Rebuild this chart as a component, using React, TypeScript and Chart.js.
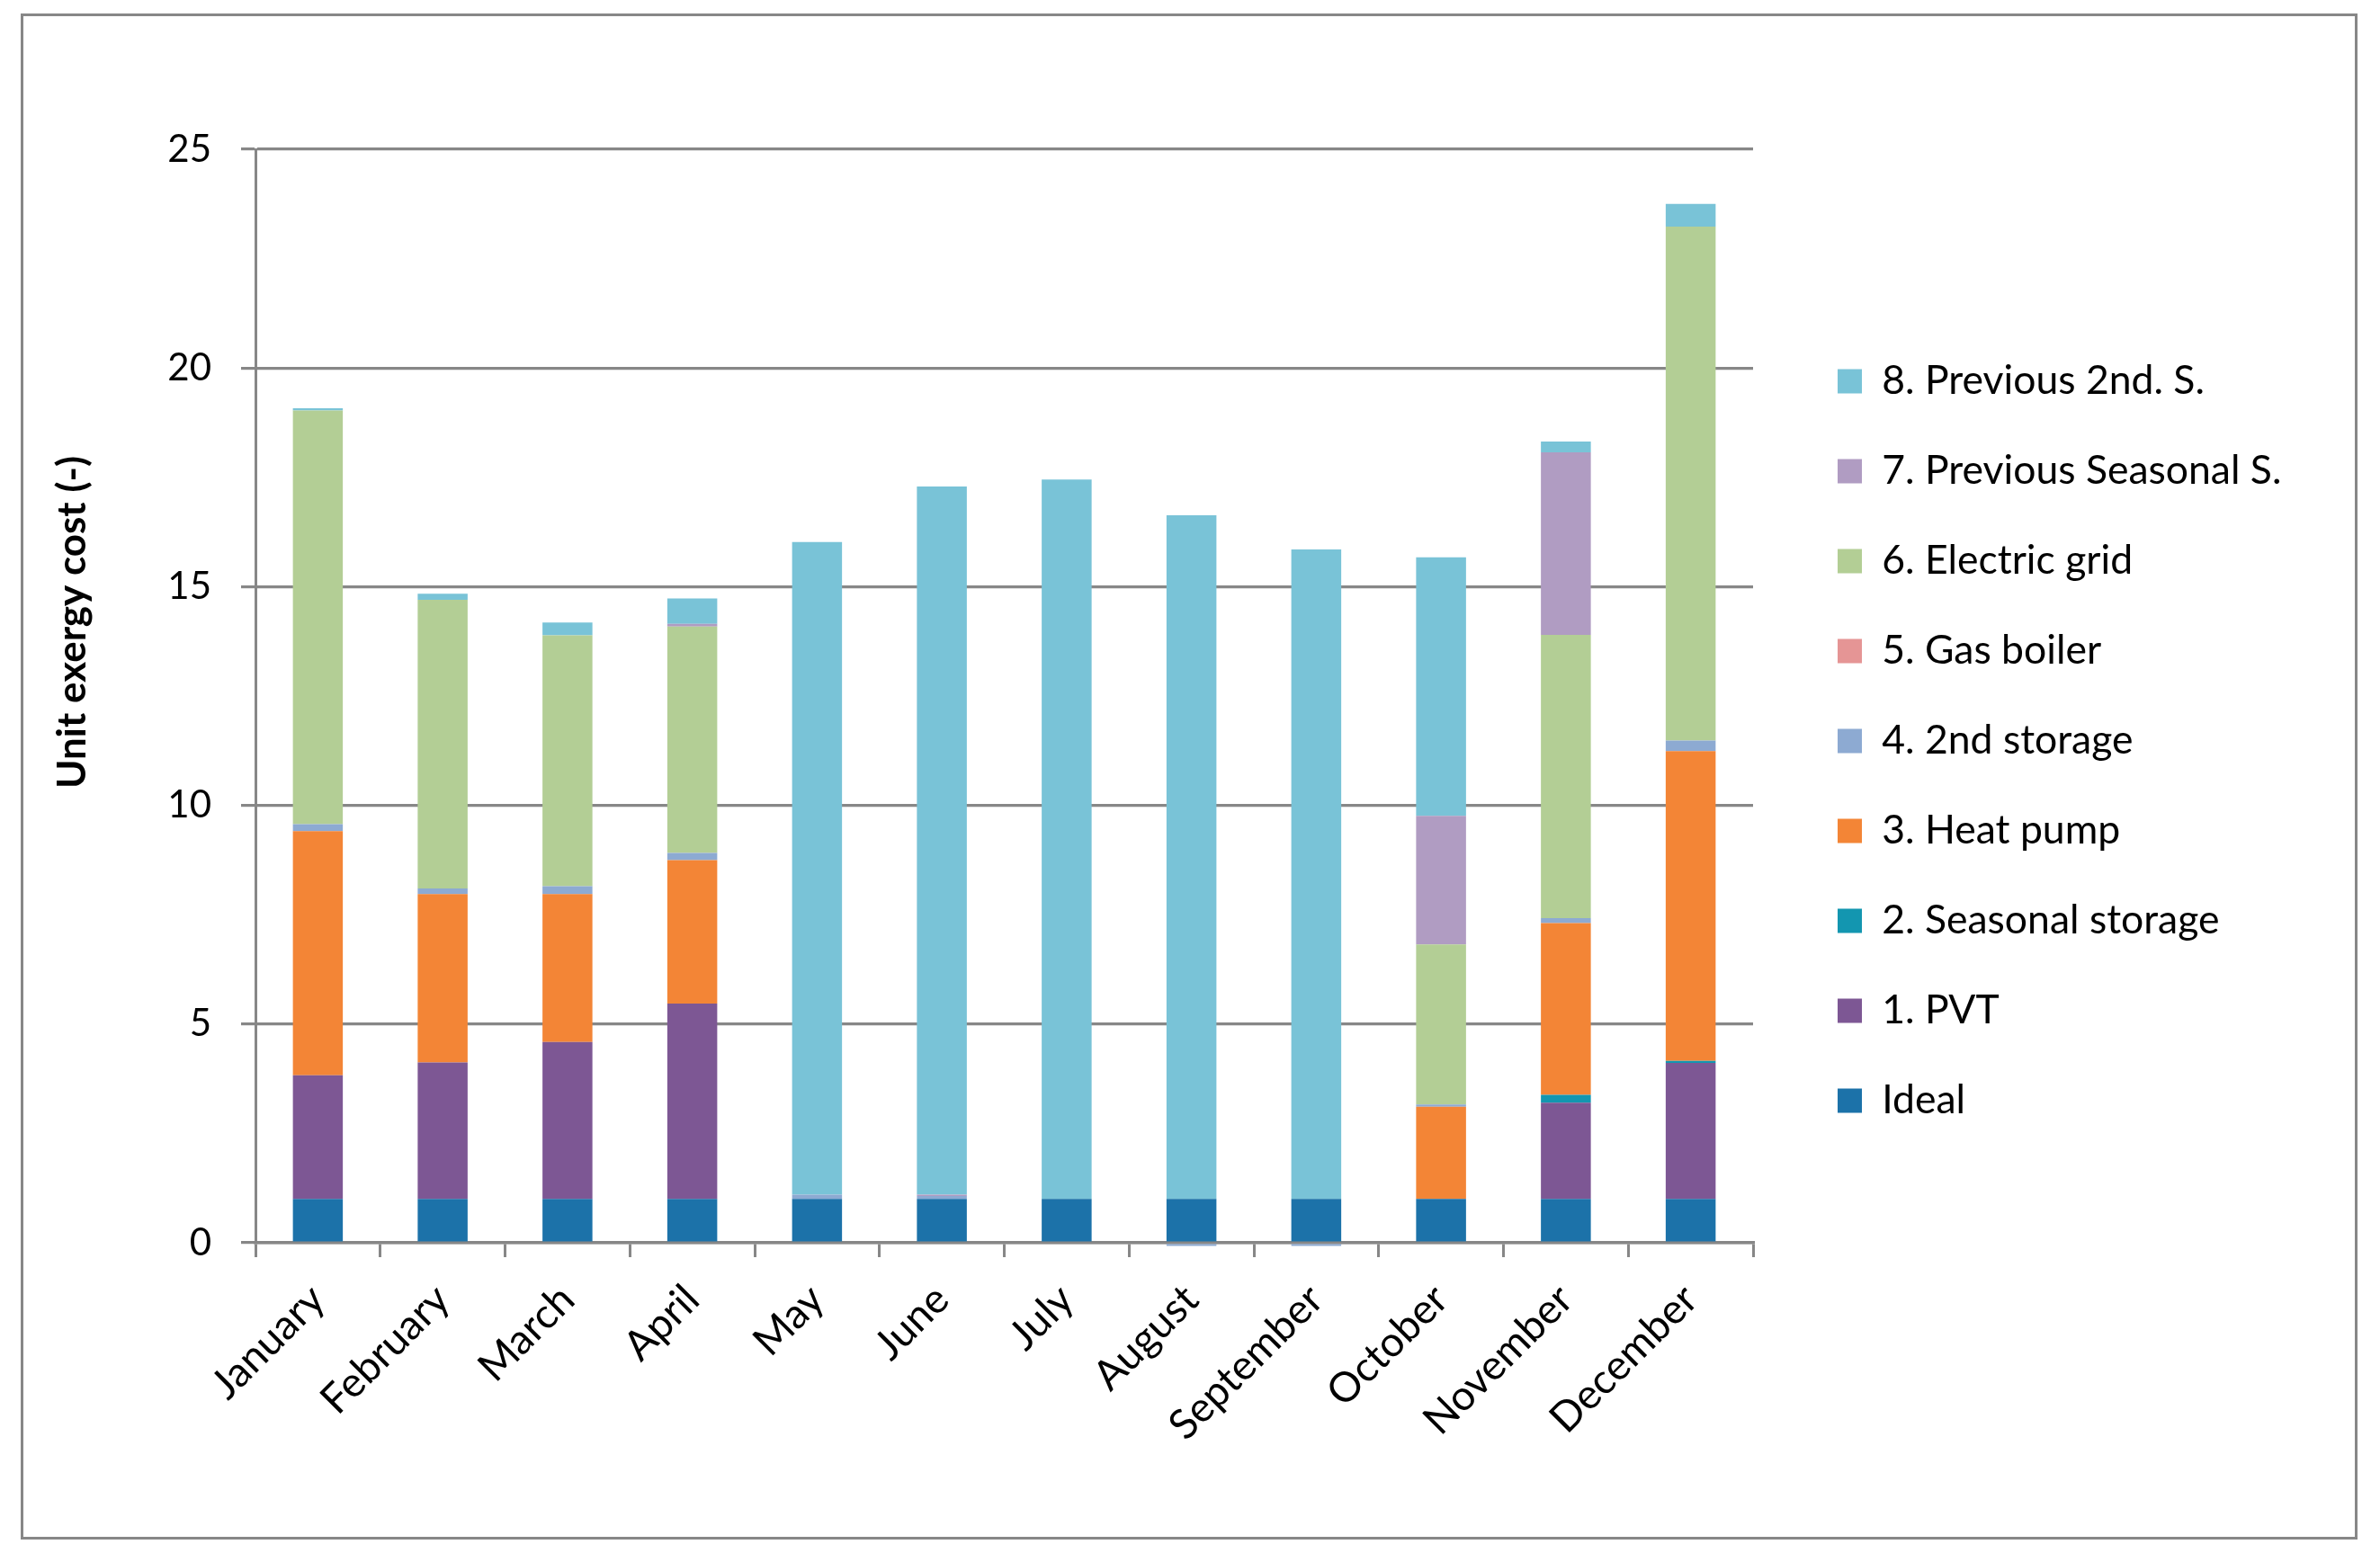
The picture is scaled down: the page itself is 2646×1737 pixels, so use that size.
import { useEffect, useRef } from 'react';
import { Chart, registerables } from 'chart.js';

Chart.register(...registerables);

// ---------- data ----------
const months = ['January', 'February', 'March', 'April', 'May', 'June', 'July', 'August', 'September', 'October', 'November', 'December'];

const ideal = [1, 1, 1, 1, 1, 1, 1, 1, 1, 1, 1, 1];
const pvt = [2.83, 3.12, 3.59, 4.47, 0, 0, 0, 0, 0, 0, 2.2, 3.11];
const seasonalStorage = [0, 0, 0, 0, 0, 0, 0, 0, 0, 0, 0.18, 0.05];
const heatPump = [5.58, 3.85, 3.38, 3.28, 0, 0, 0, 0, 0, 2.11, 3.93, 7.08];
const secondStorage = [0.16, 0.13, 0.18, 0.16, 0.1, 0.07, 0, -0.07, -0.07, 0.05, 0.11, 0.24];
const gasBoiler = [0, 0, 0, 0, 0, 0, 0, 0, 0, 0, 0, 0];
const electricGrid = [9.46, 6.6, 5.74, 5.18, 0, 0, 0, 0, 0, 3.66, 6.48, 11.75];
const prevSeasonal = [0, 0, 0, 0.06, 0, 0.03, 0, 0, 0, 2.94, 4.17, 0];
const prevSecond = [0.05, 0.14, 0.29, 0.58, 14.92, 16.19, 16.45, 15.63, 14.85, 5.91, 0.25, 0.52];

const seriesNames = ['Ideal', '1. PVT', '2. Seasonal storage', '3. Heat pump', '4. 2nd storage', '5. Gas boiler', '6. Electric grid', '7. Previous Seasonal S.', '8. Previous 2nd. S.'];
const seriesValues = [ideal, pvt, seasonalStorage, heatPump, secondStorage, gasBoiler, electricGrid, prevSeasonal, prevSecond];
const seriesColors = ['#1C72A9', '#7D5794', '#1396B0', '#F38536', '#8DAAD2', '#E59595', '#B3CE95', '#B09CC2', '#79C3D7'];

const yTicksMax = 25;
const yTicksStep = 5;
const yTitle = 'Unit exergy cost (-)';

// ---------- layout ----------
const W = 2646;
const H = 1737;
const PLOT_LEFT = 284;
const PLOT_RIGHT = 1949;
const PLOT_TOP = 166;
const PLOT_BOTTOM = 1382;
const GRID = '#878787';
const FONT = 'Lato';
const LEGEND_FONT = 44.5;
const LEGEND_PAD = 55.5;
const LEGEND_BOX_X = 2043;
const LEGEND_FIRST_CENTER = 424;

const yTitlePlugin = {
  id: 'yTitlePlugin',
  afterDraw(chart: any) {
    const ctx = chart.ctx;
    ctx.save();
    ctx.translate(81, 692);
    ctx.rotate(-Math.PI / 2);
    ctx.font = `bold 44px ${FONT}`;
    ctx.fillStyle = '#000';
    ctx.textAlign = 'center';
    ctx.textBaseline = 'middle';
    ctx.fillText(yTitle, 0, 0);
    ctx.restore();
  },
};

const legendPlacement = {
  id: 'legendPlacement',
  beforeLayout(chart: any) {
    const lg = chart.legend;
    if (lg && !lg.__patched) {
      const orig = lg.fit;
      lg.fit = function () {
        orig.call(this);
        this.width = W - PLOT_RIGHT;
      };
      lg.__patched = true;
    }
  },
  afterLayout(chart: any) {
    const lg = chart.legend;
    if (!lg) return;
    lg.left = LEGEND_BOX_X - LEGEND_PAD;
    lg.right = W;
    lg.top = LEGEND_FIRST_CENTER - LEGEND_PAD - LEGEND_FONT / 2;
    lg.bottom = H;
  },
};

export default function App() {
  const ref = useRef<HTMLCanvasElement>(null);

  useEffect(() => {
    if (!ref.current) return;
    const chart = new Chart(ref.current, {
      type: 'bar',
      data: {
        labels: months,
        datasets: seriesNames.map((name, i) => ({
          label: name,
          data: seriesValues[i],
          backgroundColor: seriesColors[i],
          borderWidth: 0,
          barPercentage: 0.4,
          categoryPercentage: 1,
          clip: false as any,
        })),
      },
      options: {
        responsive: false,
        animation: false,
        devicePixelRatio: 1,
        layout: { padding: { top: PLOT_TOP, left: 0, right: 0, bottom: 0 } },
        scales: {
          x: {
            stacked: true,
            grid: {
              display: true,
              offset: true,
              drawOnChartArea: false,
              drawTicks: true,
              tickLength: 16,
              color: GRID,
              lineWidth: 3,
            },
            border: { display: true, color: GRID, width: 3.5 },
            ticks: {
              color: '#000',
              font: { family: FONT, size: 46 },
              minRotation: 45,
              maxRotation: 45,
              autoSkip: false,
              padding: 20,
            },
            afterFit: (s: any) => {
              s.height = H - PLOT_BOTTOM;
            },
          },
          y: {
            stacked: true,
            min: 0,
            max: yTicksMax,
            ticks: {
              stepSize: yTicksStep,
              color: '#000',
              font: { family: FONT, size: 42 },
              padding: 33,
            },
            grid: { color: GRID, lineWidth: 3.2, tickLength: 16, drawTicks: true },
            border: { display: true, color: GRID, width: 3 },
            afterFit: (s: any) => {
              s.width = PLOT_LEFT;
            },
          },
        },
        plugins: {
          legend: {
            position: 'right',
            align: 'start',
            reverse: true,
            labels: {
              boxWidth: 27,
              boxHeight: 27,
              padding: LEGEND_PAD,
              color: '#000',
              font: { family: FONT, size: LEGEND_FONT },
            },
          },
          tooltip: { enabled: false },
        },
      },
      plugins: [legendPlacement, yTitlePlugin],
    });
    return () => chart.destroy();
  }, []);

  return (
    <div style={{ position: 'absolute', left: 0, top: 0, width: W, height: H, background: '#fff', overflow: 'hidden' }}>
      <canvas ref={ref} width={W} height={H} style={{ display: 'block', width: W, height: H }} />
      <div
        style={{
          position: 'absolute',
          left: 23,
          top: 15,
          width: 2621 - 23,
          height: 1712 - 15,
          border: `3px solid ${GRID}`,
          boxSizing: 'border-box',
          pointerEvents: 'none',
        }}
      />
    </div>
  );
}
